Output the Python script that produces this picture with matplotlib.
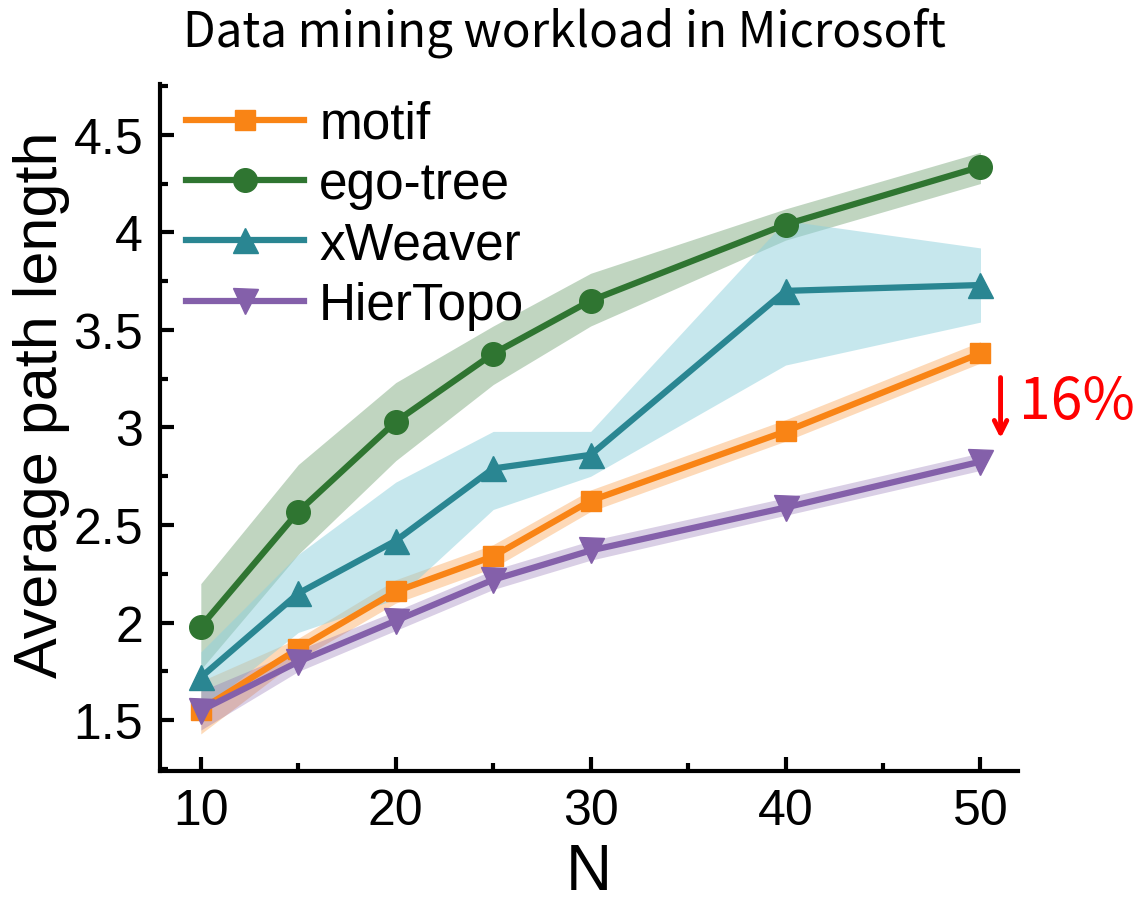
import numpy as np
import matplotlib.pyplot as plt
from matplotlib.ticker import MultipleLocator

n_vals = [10, 15, 20, 25, 30, 40, 50]

motif = [1.555, 1.867, 2.16, 2.34, 2.625, 2.98, 3.38]
motif_lo = [1.43, 1.81, 2.10, 2.28, 2.57, 2.93, 3.33]
motif_hi = [1.70, 1.92, 2.22, 2.40, 2.68, 3.04, 3.44]

ego = [1.98, 2.569, 3.03, 3.378, 3.65, 4.04, 4.336]
ego_lo = [1.76, 2.35, 2.83, 3.22, 3.52, 3.96, 4.25]
ego_hi = [2.20, 2.81, 3.23, 3.52, 3.79, 4.12, 4.41]

xweaver = [1.72, 2.15, 2.42, 2.79, 2.86, 3.70, 3.73]
xweaver_lo = [1.55, 1.95, 2.12, 2.58, 2.75, 3.32, 3.54]
xweaver_hi = [1.85, 2.35, 2.72, 2.98, 2.98, 4.06, 3.92]

hiertopo = [1.55, 1.80, 2.01, 2.22, 2.37, 2.59, 2.825]
hiertopo_lo = [1.45, 1.75, 1.96, 2.17, 2.32, 2.55, 2.78]
hiertopo_hi = [1.65, 1.86, 2.06, 2.27, 2.42, 2.64, 2.87]

yticks = [1.5, 2, 2.5, 3, 3.5, 4, 4.5]
ytick_labels = ['1.5', '2', '2.5', '3', '3.5', '4', '4.5']

# name, mean, low, high, line colour, band colour, band alpha, marker, marker size
series = [
    ("motif", motif, motif_lo, motif_hi, "#f98415", "#f98415", 0.3, "s", 15),
    ("ego-tree", ego, ego_lo, ego_hi, "#2f7531", "#2f7531", 0.3, "o", 17),
    ("xWeaver", xweaver, xweaver_lo, xweaver_hi, "#2a8692", "#8ed0dc", 0.5, "^", 18),
    ("HierTopo", hiertopo, hiertopo_lo, hiertopo_hi, "#8460aa", "#8460aa", 0.3, "v", 18),
]

plt.rcParams['font.family'] = ['Liberation Sans', 'DejaVu Sans']

fig = plt.figure(figsize=(11.42, 9.04), dpi=100)
ax = fig.add_axes([0.140, 0.146, 0.751, 0.760])

for name, y, lo, hi, c, fc, a, m, ms in series:
    ax.fill_between(n_vals, lo, hi, color=fc, alpha=a, lw=0)
for name, y, lo, hi, c, fc, a, m, ms in series:
    ax.plot(n_vals, y, color=c, marker=m, lw=4.5, ms=ms, label=name)

ax.set_xlim(7.9, 51.9)
ax.set_ylim(1.24, 4.76)
ax.xaxis.set_major_locator(MultipleLocator(10))
ax.xaxis.set_minor_locator(MultipleLocator(5))
ax.yaxis.set_minor_locator(MultipleLocator(0.25))
ax.set_yticks(yticks)
ax.set_yticklabels(ytick_labels)

for side in ['top', 'right']:
    ax.spines[side].set_visible(False)
for side in ['left', 'bottom']:
    ax.spines[side].set_linewidth(3)
ax.tick_params(which='major', direction='in', length=10, width=3, labelsize=36, pad=12)
ax.tick_params(which='minor', direction='in', length=6, width=3)

ax.set_xlabel('N', fontsize=46)
ax.set_ylabel('Average path length', fontsize=44)
ax.xaxis.set_label_coords(0.5, -0.104)
ax.yaxis.set_label_coords(-0.105, 0.534)

ax.legend(loc='upper left', frameon=False, fontsize=37, handlelength=2.3,
          labelspacing=0.22, handletextpad=0.3, borderpad=0.2, borderaxespad=0.0,
          bbox_to_anchor=(0.018, 0.992))

cjk = ['Noto Sans CJK SC', 'DejaVu Sans']
fig.text(0.494, 0.964, 'Data mining workload in Microsoft', ha='center', va='center',
         fontsize=34.3, family=cjk)

ax.annotate('', xy=(51.03, 2.93), xytext=(51.03, 3.27),
            arrowprops=dict(arrowstyle='->,head_length=0.9,head_width=0.45', color='red', lw=3.5),
            annotation_clip=False)
ax.text(52.0, 3.13, '16%', color='red', fontsize=41, family=cjk, va='center', ha='left',
        clip_on=False)

fig.savefig('out.png', dpi=100)
